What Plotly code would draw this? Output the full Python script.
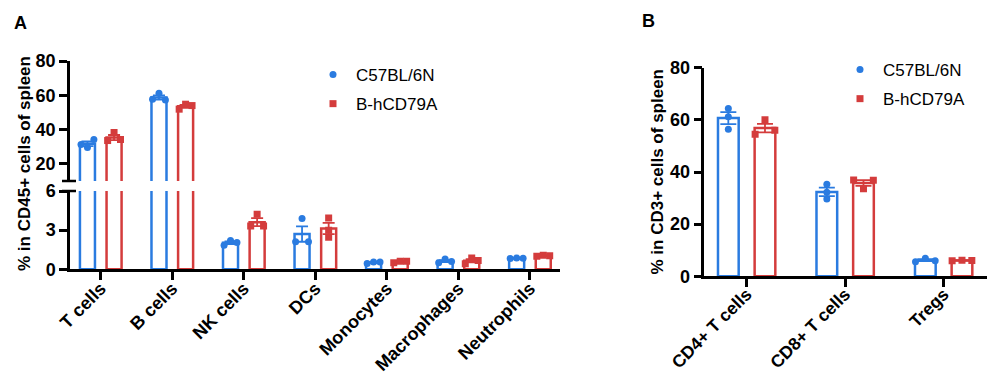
import numpy as np
import plotly.graph_objects as go

# ---------------- data ----------------
series_names = ["C57BL/6N", "B-hCD79A"]

cells_a = ["T cells", "B cells", "NK cells", "DCs", "Monocytes", "Macrophages", "Neutrophils"]
wt_a = [
    [31.3, 29.5, 34.2],
    [57.7, 61.2, 57.3],
    [1.85, 2.21, 2.06],
    [2.11, 3.89, 2.11],
    [0.45, 0.55, 0.55],
    [0.50, 0.78, 0.60],
    [0.82, 0.86, 0.84],
]
hu_a = [
    [33.6, 38.3, 34.2],
    [51.9, 54.8, 54.0],
    [3.31, 4.22, 3.31],
    [2.45, 3.94, 3.00],
    [0.50, 0.62, 0.62],
    [0.43, 0.86, 0.68],
    [1.00, 1.08, 1.04],
]

cells_b = ["CD4+ T cells", "CD8+ T cells", "Tregs"]
wt_b = [
    [64.4, 61.2, 56.4],
    [35.3, 32.2, 29.6],
    [5.6, 6.9, 6.0],
]
hu_b = [
    [54.5, 60.0, 56.0],
    [36.9, 33.6, 36.8],
    [6.0, 6.2, 6.1],
]

ytick_a_up = [20, 40, 60, 80]
ytick_a_lo = [0, 3, 6]
ytick_b = [0, 20, 40, 60, 80]

# ---------------- style ----------------
BLUE = "#2a7be0"
RED = "#d43c3c"
FONT = "Arial, Liberation Sans, sans-serif"
PAGE_MARGIN = 8          # default body margin of the html page
WP, HP = 995, 382        # window size
W, H = WP - 2 * PAGE_MARGIN, HP - 2 * PAGE_MARGIN


def px(p):
    return min(1.0, max(0.0, (p - PAGE_MARGIN) / W))


def py(p):
    return min(1.0, max(0.0, 1 - (p - PAGE_MARGIN) / H))


dom_a_x = [px(70), px(560)]
dom_a_up = [py(181), py(61)]
dom_a_lo = [py(269.3), py(191)]
dom_b_x = [px(704.3), px(987)]
dom_b_y = [py(276.3), py(67.7)]

range_a_up = [10, 80]
range_a_lo = [0, 6]
range_b = [0, 80]

ppu_a_up = (181 - 61) / (range_a_up[1] - range_a_up[0])
ppu_a_lo = (269.3 - 191) / (range_a_lo[1] - range_a_lo[0])
ppu_b = (276.3 - 67.7) / (range_b[1] - range_b[0])

BAR_W = 0.21
BAR_OFF = 0.186


def mean(v):
    return float(np.mean(v))


def sem(v):
    return float(np.std(v, ddof=1) / np.sqrt(len(v)))


def spread(vals, ppu, d, thr=6.0):
    s = sorted(vals)
    gaps = [(b - a) * ppu for a, b in zip(s, s[1:])]
    if min(gaps) < thr:
        return [-d, 0.0, d]
    return [0.0, 0.0, 0.0]


fig = go.Figure()


def add_group(reps, xaxis, yaxis, sign, color, symbol, name, ppu_fn, d, cap,
              legend, group, showlegend):
    n = len(reps)
    xs = [i + sign * BAR_OFF for i in range(n)]
    fig.add_trace(go.Bar(
        x=xs, y=[mean(r) for r in reps], width=BAR_W,
        marker=dict(color="rgba(255,255,255,0)", line=dict(color=color, width=2.5)),
        error_y=dict(type="data", array=[sem(r) for r in reps], color=color,
                     thickness=1.8, width=cap, visible=True),
        xaxis=xaxis, yaxis=yaxis, showlegend=False, hoverinfo="skip",
    ))
    xp, yp = [], []
    for i, r in enumerate(reps):
        offs = spread(r, ppu_fn(r), d)
        for o, v in zip(offs, r):
            xp.append(xs[i] + o)
            yp.append(v)
    fig.add_trace(go.Scatter(
        x=xp, y=yp, mode="markers", name=name,
        marker=dict(color=color, symbol=symbol, size=7, line=dict(width=0)),
        xaxis=xaxis, yaxis=yaxis, showlegend=showlegend, legend=legend,
        legendgroup=group,
    ))


ppu_a = lambda r: ppu_a_up if mean(r) > 10 else ppu_a_lo
ppu_bf = lambda r: ppu_b

for yax in ["y", "y2"]:
    add_group(wt_a, "x", yax, -1, BLUE, "circle", series_names[0], ppu_a, 0.09, 6,
              "legend", "a_wt", yax == "y")
    add_group(hu_a, "x", yax, +1, RED, "square", series_names[1], ppu_a, 0.09, 6,
              "legend", "a_hu", yax == "y")

add_group(wt_b, "x2", "y3", -1, BLUE, "circle", series_names[0], ppu_bf, 0.10, 8,
          "legend2", "b_wt", True)
add_group(hu_b, "x2", "y3", +1, RED, "square", series_names[1], ppu_bf, 0.10, 8,
          "legend2", "b_hu", True)

tickfont = dict(family=FONT, size=18, color="black", weight="bold")
axis_common = dict(showline=True, linecolor="black", linewidth=2.5, ticks="outside",
                   ticklen=8, tickwidth=2.5, tickcolor="black", showgrid=False,
                   zeroline=False, automargin=False)

legend_common = dict(xanchor="left", yanchor="top",
                     font=dict(family=FONT, size=17, color="black"),
                     bgcolor="rgba(0,0,0,0)", borderwidth=0,
                     tracegroupgap=4, itemwidth=36)

fig.update_layout(
    width=W, height=H,
    margin=dict(l=0, r=0, t=0, b=0),
    paper_bgcolor="white", plot_bgcolor="white",
    barmode="overlay",
    xaxis=dict(domain=dom_a_x, range=[-0.43, 6.42], anchor="y",
               tickvals=list(range(len(cells_a))), ticktext=cells_a, tickangle=-45,
               ticklabelstandoff=-9, tickfont=tickfont, **axis_common),
    yaxis=dict(domain=dom_a_lo, range=range_a_lo, anchor="x", tickvals=ytick_a_lo,
               tickfont=tickfont, **axis_common),
    yaxis2=dict(domain=dom_a_up, range=range_a_up, anchor="x", tickvals=ytick_a_up,
                tickfont=tickfont, **axis_common),
    xaxis2=dict(domain=dom_b_x, range=[-0.43, 2.44], anchor="y3",
                tickvals=list(range(len(cells_b))), ticktext=cells_b, tickangle=-45,
                ticklabelstandoff=-10,
                tickfont=dict(family=FONT, size=17.5, color="black", weight="bold"),
                **axis_common),
    yaxis3=dict(domain=dom_b_y, range=range_b, anchor="x2", tickvals=ytick_b,
                tickfont=tickfont, **axis_common),
    legend=dict(x=px(310), y=py(57), **legend_common),
    legend2=dict(x=px(837), y=py(52), **legend_common),
    showlegend=True,
)

# axis break marks
for yb in [181, 191]:
    fig.add_shape(type="line", xref="paper", yref="paper",
                  x0=px(62), x1=px(76), y0=py(yb), y1=py(yb),
                  line=dict(color="black", width=2.5))

title_font = dict(family=FONT, size=17, color="black", weight="bold")
fig.add_annotation(text="% in CD45+ cells of spleen", xref="paper", yref="paper",
                   x=px(24), y=py(164), textangle=-90, showarrow=False,
                   font=title_font, xanchor="center", yanchor="middle")
fig.add_annotation(text="% in CD3+ cells of spleen", xref="paper", yref="paper",
                   x=px(657), y=py(171.5), textangle=-90, showarrow=False,
                   font=title_font, xanchor="center", yanchor="middle")
fig.add_annotation(text="A", xref="paper", yref="paper", x=px(20), y=py(23),
                   showarrow=False, xanchor="center", yanchor="middle",
                   font=dict(family=FONT, size=18, color="black", weight="bold"))
fig.add_annotation(text="B", xref="paper", yref="paper", x=px(648), y=py(21),
                   showarrow=False, xanchor="center", yanchor="middle",
                   font=dict(family=FONT, size=18, color="black", weight="bold"))

fig.write_html("out.html")
